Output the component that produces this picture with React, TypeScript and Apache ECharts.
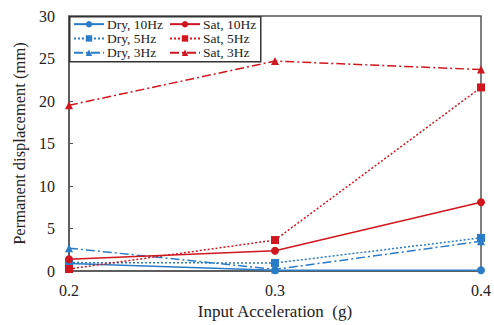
import React, { useEffect, useRef } from "react";
import * as echarts from "echarts";

const accel = [0.2, 0.3, 0.4];
const xTicks = ["0.2", "0.3", "0.4"];
const dry10 = [0.9, 0.1, 0.1];
const dry5 = [1.0, 0.95, 3.9];
const dry3 = [2.7, 0.2, 3.5];
const sat10 = [1.4, 2.4, 8.1];
const sat5 = [0.25, 3.65, 21.6];
const sat3 = [19.5, 24.7, 23.7];
const legendCol1 = ["Dry, 10Hz", "Dry, 5Hz", "Dry, 3Hz"];
const legendCol2 = ["Sat, 10Hz", "Sat, 5Hz", "Sat, 3Hz"];

const BLUE = "#2a7cc7";
const RED = "#d0161e";
const FONT = "'Liberation Serif', 'Times New Roman', serif";

export default function App() {
  const ref = useRef<HTMLDivElement>(null);
  useEffect(() => {
    const chart = echarts.init(ref.current!, null, { renderer: "svg" });
    const mk = (name: string, vals: number[], color: string, type: any, symbol: string, size: number) => ({
      name,
      type: "line",
      data: accel.map((a, i) => [a, vals[i]]),
      symbol,
      symbolSize: size,
      lineStyle: { color, width: 1.5, type },
      itemStyle: { color },
      z: 3,
    });
    const dotted = [2, 2];
    const dashDot = [9, 3, 2, 3];
    const legendBase = {
      orient: "vertical",
      top: 17,
      padding: 0,
      itemGap: 0,
      itemWidth: 30,
      itemHeight: 8,
      z: 10,
      textStyle: { fontFamily: FONT, fontSize: 13.5, lineHeight: 14.3, color: "#222", padding: [0, 0, 0, -2] },
    };
    chart.setOption({
      animation: false,
      textStyle: { fontFamily: FONT },
      grid: { left: 69, right: 9, top: 16, bottom: 46, show: true, borderColor: "#555", borderWidth: 1.5 },
      graphic: [
        {
          type: "rect",
          left: 69,
          top: 16,
          z: 5,
          shape: { width: 191, height: 45 },
          style: { fill: "#fff", stroke: "#333", lineWidth: 1.5 },
        },
      ],
      legend: [
        { ...legendBase, left: 73, data: legendCol1 },
        { ...legendBase, left: 169, data: legendCol2 },
      ],
      xAxis: {
        type: "value",
        min: 0.2,
        max: 0.4,
        interval: 0.1,
        name: "Input Acceleration  (g)",
        nameLocation: "middle",
        nameGap: 31,
        nameTextStyle: { fontFamily: FONT, fontSize: 17, color: "#222" },
        axisLine: { show: true, lineStyle: { color: "#555", width: 1.5 } },
        axisTick: { show: false },
        splitLine: { show: false },
        axisLabel: {
          fontFamily: FONT,
          fontSize: 16,
          color: "#222",
          margin: 11,
          formatter: (v: number) => xTicks[Math.round((v - 0.2) * 10)] ?? "",
        },
      },
      yAxis: {
        type: "value",
        min: 0,
        max: 30,
        interval: 5,
        name: "Permanent displacement (mm)",
        nameLocation: "middle",
        nameGap: 33,
        nameTextStyle: { fontFamily: FONT, fontSize: 16.5, color: "#222" },
        axisLine: { show: true, lineStyle: { color: "#555", width: 1.5 } },
        axisTick: { show: true, inside: true, length: 4, lineStyle: { color: "#555" } },
        splitLine: { show: false },
        axisLabel: { fontFamily: FONT, fontSize: 16, color: "#222", margin: 14 },
      },
      series: [
        mk("Dry, 10Hz", dry10, BLUE, "solid", "circle", 8),
        mk("Dry, 5Hz", dry5, BLUE, dotted, "rect", 8),
        mk("Dry, 3Hz", dry3, BLUE, dashDot, "triangle", 8),
        mk("Sat, 10Hz", sat10, RED, "solid", "circle", 8),
        mk("Sat, 5Hz", sat5, RED, dotted, "rect", 8),
        mk("Sat, 3Hz", sat3, RED, dashDot, "triangle", 8),
      ],
    });
    return () => chart.dispose();
  }, []);
  return <div ref={ref} style={{ width: 494, height: 325, position: "absolute", left: 0, top: 0 }} />;
}
